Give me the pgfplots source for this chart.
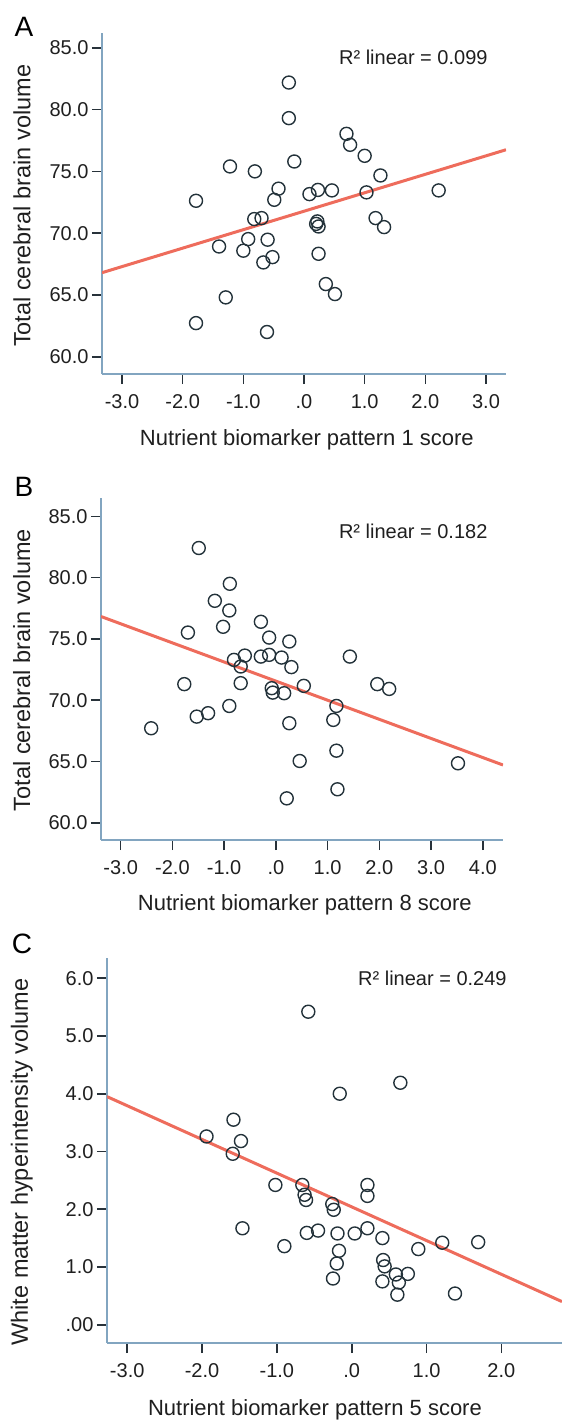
\documentclass[border=0pt]{standalone}
\usepackage{pgfplots}
\pgfplotsset{compat=1.18}
\usepackage{fontspec}
\setmainfont{Liberation Sans}
\definecolor{axcol}{RGB}{130,165,192}
\definecolor{tkcol}{RGB}{40,50,58}
\definecolor{ptcol}{RGB}{35,50,58}
\definecolor{fitcol}{RGB}{238,108,92}
\pgfplotsset{
  panel/.style={
    scale only axis, anchor=south west,
    axis lines*=left,
    axis line style={axcol, line width=1.3bp},
    tick align=outside,
    major tick length=10bp,
    major tick style={tkcol, line width=1.6bp},
    tick label style={font=\fontsize{20bp}{24bp}\selectfont, text=black!88},
    xticklabel style={yshift=-7bp},
    xlabel style={font=\fontsize{22bp}{26bp}\selectfont, anchor=center, text=black!88},
    ylabel style={font=\fontsize{23.5bp}{28bp}\selectfont, anchor=center, text=black!88},
    clip mode=individual,
  },
  pts/.style={only marks, mark=o, mark size=6.5bp, mark options={ptcol, line width=1.4bp}},
  fit/.style={fitcol, line width=3bp, no marks},
}
\begin{document}
\begin{tikzpicture}
\useasboundingbox (0,0) rectangle (562bp,-1420bp);
% ---------------- Panel A ----------------
\begin{axis}[panel, at={(102bp,-374bp)}, width=404bp, height=341bp,
  xmin=-3.33, xmax=3.33, ymin=58.6, ymax=86.2,
  xtick={-3,-2,-1,0,1,2,3}, xticklabels={-3.0,-2.0,-1.0,.0,1.0,2.0,3.0},
  ytick={60,65,70,75,80,85}, yticklabels={60.0,65.0,70.0,75.0,80.0,85.0},
  xlabel={Nutrient biomarker pattern 1 score},
  ylabel={Total cerebral brain volume},
  xlabel style={at={(axis description cs:0.507,-0.1935)}},
  ylabel style={at={(axis description cs:-0.198,0.493)}},
]
\addplot[fit] coordinates {(-3.33,66.8) (3.33,76.75)};
\addplot[pts] coordinates {
(-0.25,82.19) (-0.25,79.31) (0.70,78.04) (0.76,77.15) (1.00,76.26)
(-0.16,75.80) (-1.22,75.40) (-0.81,75.00) (1.26,74.67) (-0.42,73.60)
(-0.49,72.70) (-1.78,72.62) (0.09,73.16) (0.23,73.50) (0.46,73.46)
(1.03,73.30) (2.22,73.46) (-0.82,71.14) (-0.70,71.22) (1.18,71.22)
(1.32,70.49) (0.22,70.95) (0.24,70.54) (0.20,70.75)
(-1.40,68.92) (-0.92,69.52) (-1.00,68.58) (-0.60,69.47) (-0.67,67.63)
(-0.52,68.06) (0.24,68.33) (0.36,65.88) (0.51,65.07) (-1.29,64.80)
(-1.78,62.72) (-0.61,62.00)
};
\node[anchor=base east, font=\fontsize{20bp}{24bp}\selectfont, text=black!88] at (axis description cs:0.963,0.909) {R² linear = 0.099};
\end{axis}
% ---------------- Panel B ----------------
\begin{axis}[panel, at={(101bp,-840bp)}, width=402bp, height=342bp,
  xmin=-3.38, xmax=4.39, ymin=58.59, ymax=86.5,
  xtick={-3,-2,-1,0,1,2,3,4}, xticklabels={-3.0,-2.0,-1.0,.0,1.0,2.0,3.0,4.0},
  ytick={60,65,70,75,80,85}, yticklabels={60.0,65.0,70.0,75.0,80.0,85.0},
  xlabel={Nutrient biomarker pattern 8 score},
  ylabel={Total cerebral brain volume},
  xlabel style={at={(axis description cs:0.507,-0.190)}},
  ylabel style={at={(axis description cs:-0.197,0.497)}},
]
\addplot[fit] coordinates {(-3.38,76.83) (4.39,64.71)};
\addplot[pts] coordinates {
(-1.49,82.42) (-0.89,79.50) (-1.18,78.11) (-0.90,77.32) (-0.29,76.40)
(-1.02,75.99) (-1.70,75.52) (-0.13,75.11) (0.26,74.79) (-0.81,73.29)
(-0.60,73.64) (-0.29,73.56) (-0.13,73.70) (0.11,73.48) (1.43,73.56)
(-0.68,72.75) (0.30,72.70) (-1.77,71.31) (-0.68,71.39) (0.54,71.17)
(1.96,71.31) (2.19,70.92) (-0.08,70.98) (-0.06,70.62) (0.16,70.57)
(-0.90,69.53) (1.17,69.53) (1.11,68.39) (0.26,68.12) (-1.53,68.66)
(-1.31,68.94) (-2.41,67.71) (1.17,65.88) (0.46,65.04) (3.52,64.85)
(1.19,62.73) (0.21,61.99)
};
\node[anchor=base east, font=\fontsize{20bp}{24bp}\selectfont, text=black!88] at (axis description cs:0.970,0.883) {R² linear = 0.182};
\end{axis}
% ---------------- Panel C ----------------
\begin{axis}[panel, at={(107bp,-1343bp)}, width=455bp, height=385bp,
  xmin=-3.27, xmax=2.81, ymin=-0.317, ymax=6.35,
  xtick={-3,-2,-1,0,1,2}, xticklabels={-3.0,-2.0,-1.0,.0,1.0,2.0},
  ytick={0,1,2,3,4,5,6}, yticklabels={.00,1.0,2.0,3.0,4.0,5.0,6.0},
  xlabel={Nutrient biomarker pattern 5 score},
  ylabel={White matter hyperintensity volume},
  xlabel style={at={(axis description cs:0.457,-0.174)}},
  ylabel style={at={(axis description cs:-0.187,0.47)}},
]
\addplot[fit] coordinates {(-3.27,3.95) (2.81,0.40)};
\addplot[pts] coordinates {
(-0.58,5.42) (0.65,4.19) (-0.16,4.00) (-1.58,3.55) (-1.94,3.26)
(-1.48,3.18) (-1.59,2.96) (-1.02,2.42) (-0.66,2.42) (0.21,2.42)
(0.21,2.23) (-0.63,2.25) (-0.61,2.16) (-0.26,2.09) (-0.24,1.99)
(-1.46,1.67) (0.21,1.67) (-0.60,1.59) (-0.45,1.63) (-0.19,1.58)
(0.04,1.58) (0.41,1.50) (-0.90,1.36) (0.89,1.31) (1.21,1.42)
(1.69,1.43) (-0.17,1.28) (-0.20,1.06) (0.42,1.12) (0.44,1.01)
(-0.25,0.80) (0.41,0.75) (0.59,0.87) (0.63,0.73) (0.75,0.88)
(0.61,0.52) (1.38,0.54)
};
\node[anchor=base east, font=\fontsize{20bp}{24bp}\selectfont, text=black!88] at (axis description cs:0.886,0.928) {R² linear = 0.249};
\end{axis}
% panel letters
\node[font=\fontsize{28bp}{32bp}\selectfont] at (24bp,-27bp) {A};
\node[font=\fontsize{28bp}{32bp}\selectfont] at (24bp,-487bp) {B};
\node[font=\fontsize{28bp}{32bp}\selectfont] at (22bp,-944bp) {C};
\end{tikzpicture}
\end{document}
